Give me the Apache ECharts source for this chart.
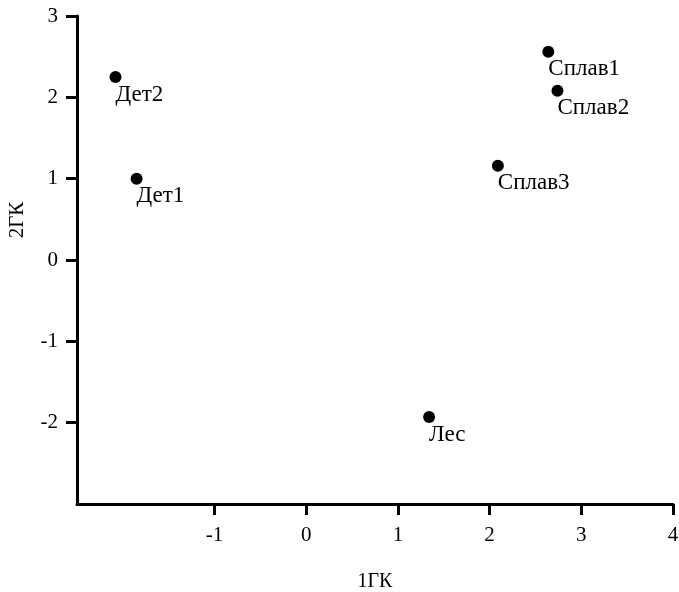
<!DOCTYPE html>
<html>
<head>
<meta charset="utf-8">
<script src="https://cdn.jsdelivr.net/npm/echarts@6/dist/echarts.min.js"></script>
<style>html,body{margin:0;padding:0;background:#fff}#c{width:679px;height:592px}</style>
</head>
<body>
<div id="c"></div>
<script>
const names = ['Дет2', 'Дет1', 'Сплав1', 'Сплав2', 'Сплав3', 'Лес'];
const xValues = [-2.08, -1.85, 2.64, 2.74, 2.09, 1.34];
const yValues = [2.25, 1.0, 2.56, 2.08, 1.16, -1.93];
const xTicks = [-1, 0, 1, 2, 3, 4];
const yTicks = [-2, -1, 0, 1, 2, 3];

const font = 'Liberation Serif';
const chart = echarts.init(document.getElementById('c'));
chart.setOption({
  animation: false,
  backgroundColor: '#fff',
  grid: { left: 77, right: 6, top: 16, bottom: 88, containLabel: false, outerBoundsMode: 'none' },
  xAxis: {
    type: 'value', min: -2.5, max: 4,
    name: '1ГК', nameLocation: 'middle', nameGap: 68,
    nameTextStyle: { fontFamily: font, fontSize: 20, color: '#000' },
    axisLine: { show: true, onZero: false, lineStyle: { color: '#000', width: 3 } },
    axisTick: { show: true, length: 11, lineStyle: { color: '#000', width: 3 }, customValues: xTicks },
    axisLabel: { fontFamily: font, fontSize: 21, color: '#000', margin: 21, customValues: xTicks },
    splitLine: { show: false }
  },
  yAxis: {
    type: 'value', min: -3, max: 3,
    name: '2ГК', nameLocation: 'middle', nameGap: 49,
    nameTextStyle: { fontFamily: font, fontSize: 21, color: '#000', padding: [0, 0, 0, 80] },
    axisLine: { show: true, onZero: false, lineStyle: { color: '#000', width: 3 } },
    axisTick: { show: true, length: 11, lineStyle: { color: '#000', width: 3 }, customValues: yTicks },
    axisLabel: { fontFamily: font, fontSize: 21, color: '#000', margin: 19, customValues: yTicks },
    splitLine: { show: false }
  },
  series: [{
    type: 'scatter',
    symbol: 'circle',
    symbolSize: 12,
    itemStyle: { color: '#000', opacity: 1 },
    data: names.map((n, i) => [xValues[i], yValues[i], n]),
    label: {
      show: true,
      position: 'bottom',
      align: 'left',
      distance: 0,
      formatter: p => p.data[2],
      fontFamily: font, fontSize: 23, color: '#000'
    }
  }]
});
</script>
</body>
</html>
